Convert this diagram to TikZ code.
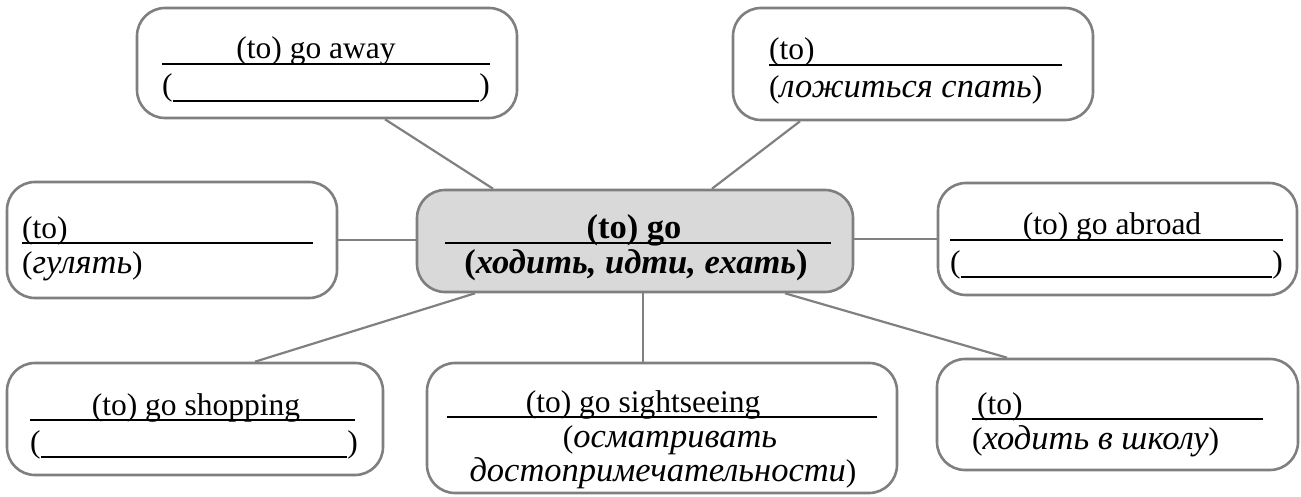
\documentclass[tikz,border=0pt]{standalone}
\usepackage{fontspec}
\setmainfont{Liberation Serif}
\definecolor{boxgray}{HTML}{7F7F7F}
\definecolor{linkgray}{HTML}{808080}
\definecolor{centerfill}{HTML}{D9D9D9}
\newcommand{\ruit}[1]{{\fontsize{34.5}{40}\selectfont\itshape #1}}
\begin{document}
\begin{tikzpicture}[x=1pt,y=-1pt,
  box/.style={draw=boxgray,line width=2.6pt,rounded corners=28pt,inner sep=0pt,fill=white},
  link/.style={draw=linkgray,line width=2.2pt},
  rule/.style={line width=1.4pt},
  txt/.style={inner sep=0pt,font=\fontsize{31.5}{36}\selectfont},
  ctxt/.style={inner sep=0pt,font=\fontsize{34.5}{40}\selectfont\bfseries}]
\useasboundingbox (0,0) rectangle (1301,497);

% boxes
\node[box,minimum width=380pt,minimum height=110pt] (b1) at (327,63) {};
\node[box,minimum width=360pt,minimum height=112pt] (b2) at (913,64) {};
\node[box,minimum width=330pt,minimum height=116pt] (b3) at (172,240) {};
\node[box,fill=centerfill,minimum width=436pt,minimum height=102pt] (c) at (635,241) {};
\node[box,minimum width=359pt,minimum height=112pt] (b5) at (1117.5,239) {};
\node[box,minimum width=376pt,minimum height=112pt] (b6) at (195,419) {};
\node[box,minimum width=470pt,minimum height=130pt] (b7) at (662,428) {};
\node[box,minimum width=361pt,minimum height=111pt] (b8) at (1117.5,414.5) {};

% connectors
\draw[link] ([xshift=58pt]b1.south) -- ([xshift=-142pt]c.north);
\draw[link] ([xshift=-113pt]b2.south) -- ([xshift=77pt]c.north);
\draw[link] (b3.east) -- (b3.east -| c.west);
\draw[link] (c.east |- b5.west) -- (b5.west);
\draw[link] ([xshift=60pt]b6.north) -- ([xshift=-160pt]c.south);
\draw[link] ([xshift=8pt]c.south) -- ([xshift=8pt]c.south |- b7.north);
\draw[link] ([xshift=150pt]c.south) -- ([xshift=-110.5pt]b8.north);

% box 1
\node[txt,anchor=base] (t1a) at (316,59) {(to) go away};
\draw[rule] (162,64) -- (490,64);
\node[txt,anchor=base west] (t1b) at (162,96) {(};
\node[txt,anchor=base east] (t1c) at (490,96) {)};
\draw[rule] (t1b.base east) ++(0,5) -- ([yshift=-5pt]t1c.base west);

% box 2
\node[txt,anchor=base west] (t2a) at (769,60) {(to)};
\draw[rule] (769,65) -- (1062,65);
\node[txt,anchor=base west] (t2b) at (769,98) {(\ruit{ложиться спать})};

% box 3
\node[txt,anchor=base west] (t3a) at (22,238) {(to)};
\draw[rule] (22,243) -- (313,243);
\node[txt,anchor=base west] (t3b) at (22,273) {(\ruit{гулять})};

% center
\node[ctxt,anchor=base] (tca) at (634,238) {(to) go};
\draw[rule] (445,243) -- (831,243);
\node[ctxt,anchor=base] (tcb) at (636,273) {(\textit{ходить, идти, ехать})};

% box 5
\node[txt,anchor=base] (t5a) at (1112,235) {(to) go abroad};
\draw[rule] (950,240) -- (1283,240);
\node[txt,anchor=base west] (t5b) at (950,272) {(};
\node[txt,anchor=base east] (t5c) at (1283,272) {)};
\draw[rule] (t5b.base east) ++(0,5) -- ([yshift=-5pt]t5c.base west);

% box 6
\node[txt,anchor=base] (t6a) at (196,415) {(to) go shopping};
\draw[rule] (30,420) -- (355,420);
\node[txt,anchor=base west] (t6b) at (30,452) {(};
\node[txt,anchor=base east] (t6c) at (358,452) {)};
\draw[rule] (t6b.base east) ++(0,5) -- ([yshift=-5pt]t6c.base west);

% box 7
\node[txt,anchor=base] (t7a) at (643,412) {(to) go sightseeing};
\draw[rule] (447,417) -- (877,417);
\node[txt,anchor=base] (t7b) at (670,447) {(\ruit{осматривать}};
\node[txt,anchor=base] (t7c) at (663,481) {\ruit{достопримечательности})};

% box 8
\node[txt,anchor=base west] (t8a) at (977,414) {(to)};
\draw[rule] (972,419) -- (1263,419);
\node[txt,anchor=base west] (t8b) at (972,449) {(\ruit{ходить в школу})};
\end{tikzpicture}
\end{document}
